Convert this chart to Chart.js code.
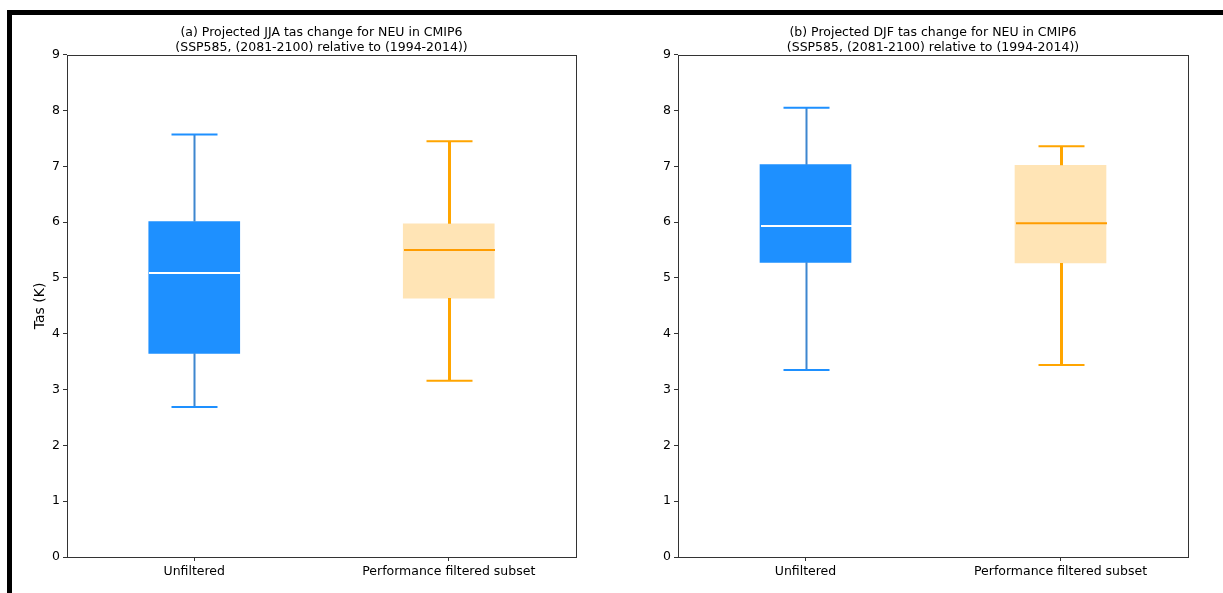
<!DOCTYPE html>
<html>
<head>
<meta charset="utf-8">
<script src="https://cdn.jsdelivr.net/npm/chart.js@4.4.1/dist/chart.umd.min.js"></script>
<style>
  body { margin: 0; background: #fff; }
  #wrap { position: relative; width: 1223px; height: 593px; overflow: hidden; background: #fff; }
  #frame { position: absolute; left: 7px; top: 10px; width: 1300px; height: 700px;
           border-left: 5px solid #000; border-top: 5px solid #000; z-index: 2; }
  canvas { position: absolute; top: 0; }
  #chartA { left: 0; }
  #chartB { left: 612px; }
</style>
</head>
<body>
<div id="wrap">
  <div id="frame"></div>
  <canvas id="chartA" width="612" height="593"></canvas>
  <canvas id="chartB" width="611" height="593"></canvas>
</div>
<script>
'use strict';
// data
var categories = ['Unfiltered', 'Performance filtered subset'];
var yTicks = [0, 1, 2, 3, 4, 5, 6, 7, 8, 9];

// (a) JJA
var jjaMin = [2.69, 3.16];
var jjaQ1  = [3.65, 4.64];
var jjaMed = [5.09, 5.50];
var jjaQ3  = [6.01, 5.97];
var jjaMax = [7.57, 7.45];

// (b) DJF
var djfMin = [3.35, 3.44];
var djfQ1  = [5.28, 5.27];
var djfMed = [5.93, 5.98];
var djfQ3  = [7.03, 7.02];
var djfMax = [8.05, 7.36];

var boxFill   = ['#1E90FF', '#FFE4B5'];
var whiskCol  = ['#3d86cf', '#FFA500'];
var capCol    = ['#1E90FF', '#FFA500'];
var medCol    = ['#ffffff', '#FF9C00'];
var whiskW    = [2, 3];

var FONT = 'DejaVu Sans';

// draws whiskers, caps, medians and the axes frame using the chart's scales
var boxPlugin = {
    id: 'boxWhiskers',
    afterDatasetsDraw: function(chart, args, opts) {
        var ctx = chart.ctx, x = chart.scales.x, y = chart.scales.y;
        ctx.save();
        for (var i = 0; i < categories.length; i++) {
            var cx = Math.round(x.getPixelForValue(i)) + 0.5;
            ctx.lineCap = 'butt';
            ctx.strokeStyle = whiskCol[i];
            ctx.lineWidth = whiskW[i];
            ctx.beginPath();
            ctx.moveTo(cx, y.getPixelForValue(opts.min[i]));
            ctx.lineTo(cx, y.getPixelForValue(opts.q1[i]));
            ctx.moveTo(cx, y.getPixelForValue(opts.q3[i]));
            ctx.lineTo(cx, y.getPixelForValue(opts.max[i]));
            ctx.stroke();

            ctx.strokeStyle = capCol[i];
            ctx.lineWidth = 2;
            ctx.beginPath();
            [opts.min[i], opts.max[i]].forEach(function(v) {
                var py = y.getPixelForValue(v);
                ctx.moveTo(cx - 23, py);
                ctx.lineTo(cx + 23, py);
            });
            ctx.stroke();

            ctx.strokeStyle = medCol[i];
            ctx.lineWidth = 2;
            ctx.beginPath();
            var my = y.getPixelForValue(opts.med[i]);
            ctx.moveTo(cx - 45.5, my);
            ctx.lineTo(cx + 45.5, my);
            ctx.stroke();
        }
        var a = chart.chartArea;
        ctx.strokeStyle = '#333';
        ctx.lineWidth = 1;
        ctx.strokeRect(Math.round(a.left) + 0.5, Math.round(a.top) + 0.5,
                       Math.round(a.right - a.left), Math.round(a.bottom - a.top));
        ctx.restore();
    }
};

function makeChart(id, title, q1, q3, min, med, max, yWidth, padRight, yLabel) {
    return new Chart(document.getElementById(id), {
        type: 'bar',
        data: {
            labels: categories,
            datasets: [{
                data: categories.map(function(c, i) { return [q1[i], q3[i]]; }),
                backgroundColor: boxFill,
                borderWidth: 0,
                barThickness: 91
            }]
        },
        options: {
            responsive: false,
            animation: false,
            devicePixelRatio: 1,
            layout: { padding: { left: 0, right: padRight, top: 0, bottom: 0 } },
            plugins: {
                legend: { display: false },
                tooltip: { enabled: false },
                title: {
                    display: true,
                    fullSize: false,
                    text: title,
                    color: '#000',
                    font: { family: FONT, size: 12.5, weight: 'normal', lineHeight: 1.15 },
                    padding: { top: 26, bottom: 0 }
                },
                boxWhiskers: { min: min, q1: q1, med: med, q3: q3, max: max }
            },
            scales: {
                x: {
                    grid: { display: true, offset: false, drawOnChartArea: false, drawTicks: true,
                            tickLength: 4, color: '#333' },
                    border: { display: false },
                    ticks: { color: '#000', padding: 3, font: { family: FONT, size: 12.5 } },
                    afterFit: function(s) { s.height = 36; }
                },
                y: {
                    min: 0, max: 9,
                    afterBuildTicks: function(s) { s.ticks = yTicks.map(function(v) { return { value: v }; }); },
                    grid: { display: true, drawOnChartArea: false, drawTicks: true, tickLength: 4, color: '#333' },
                    border: { display: false },
                    ticks: { color: '#000', padding: 3, font: { family: FONT, size: 12.5 } },
                    title: {
                        display: !!yLabel,
                        text: yLabel || '',
                        color: '#000',
                        font: { family: FONT, size: 14 },
                        padding: { top: 32, bottom: 0 }
                    },
                    afterFit: function(s) { s.width = yWidth; }
                }
            }
        },
        plugins: [boxPlugin]
    });
}

makeChart('chartA',
    ['(a) Projected JJA tas change for NEU in CMIP6', '(SSP585, (2081-2100) relative to (1994-2014))'],
    jjaQ1, jjaQ3, jjaMin, jjaMed, jjaMax, 67, 36, 'Tas (K)');
makeChart('chartB',
    ['(b) Projected DJF tas change for NEU in CMIP6', '(SSP585, (2081-2100) relative to (1994-2014))'],
    djfQ1, djfQ3, djfMin, djfMed, djfMax, 66, 35, null);
</script>
</body>
</html>
